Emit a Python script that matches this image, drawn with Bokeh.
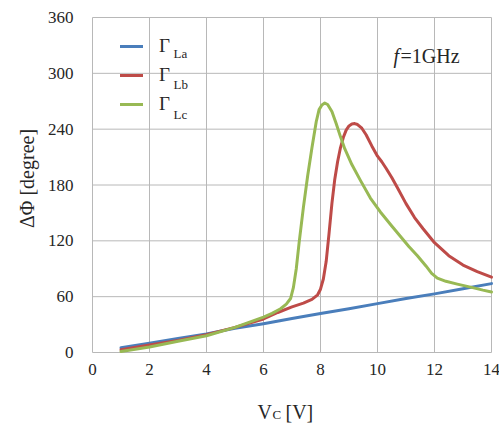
import math
from bokeh.plotting import figure
from bokeh.models import Range1d, Label, Legend, LegendItem
from bokeh.core.properties import value
from bokeh.embed import file_html
from bokeh.resources import INLINE

# ---- data ----
x_a = [1, 2, 3, 4, 5, 6, 7, 8, 9, 10, 11, 12, 13, 14]
y_a = [5, 10, 15, 20, 26, 31, 36.5, 42, 47, 52.5, 58, 63, 68.5, 74]

x_b = [1, 2, 3, 4, 5, 6, 6.5, 7, 7.4, 7.7, 7.9, 8.0, 8.1, 8.2, 8.3, 8.4, 8.5, 8.6, 8.7,
       8.8, 8.9, 9.0, 9.1, 9.2, 9.3, 9.45, 9.6, 9.8, 10.0, 10.15, 10.3, 10.5, 10.7, 11.0,
       11.3, 11.6, 12.0, 12.5, 13.0, 13.5, 14.0]
y_b = [3, 8, 13, 19, 27, 36, 43, 49, 53, 57, 62, 68, 79, 98, 128, 160, 186, 205, 220,
       231, 239, 243.5, 245.5, 246, 245, 241, 234, 222, 211, 205, 198, 188, 177, 160,
       145, 133, 118, 104, 94, 87, 81]

x_c = [1, 2, 3, 4, 5, 6, 6.3, 6.6, 6.8, 6.95, 7.05, 7.15, 7.25, 7.4, 7.55, 7.7, 7.85,
       7.95, 8.05, 8.15, 8.25, 8.4, 8.55, 8.7, 8.85, 9.1, 9.4, 9.75, 10.1, 10.5, 10.8,
       11.1, 11.4, 11.7, 11.9, 12.1, 12.4, 12.8, 13.3, 13.7, 14.0]
y_c = [1, 6, 12, 18, 27, 38, 42, 47, 52, 58, 70, 90, 118, 156, 190, 220, 248,
       261, 266, 268, 266.5, 259, 246, 232, 219, 202, 185, 166, 151, 136, 125,
       114, 104, 93, 85, 80, 76.5, 73.5, 70, 67, 65]

x_ticks = [0, 2, 4, 6, 8, 10, 12, 14]
y_ticks = [0, 60, 120, 180, 240, 300, 360]
x_tick_labels = [str(t) for t in x_ticks]
y_tick_labels = [str(t) for t in y_ticks]

# ---- layout (pixels) ----
W, H = 499, 423
FX0, FX1 = 92, 491      # plot box left / right
FY1, FY0 = 17, 352      # plot box top / bottom
SX = (FX1 - FX0) / (x_ticks[-1] - x_ticks[0])
SY = (FY0 - FY1) / (y_ticks[-1] - y_ticks[0])


def dx(px):
    return x_ticks[0] + (px - FX0) / SX


def dy(py):
    return y_ticks[0] + (FY0 - py) / SY


SERIF = "Liberation Serif"
TXT = "#262626"
GRID = "#b8b8b8"

p = figure(width=W, height=H, output_backend="svg", toolbar_location=None,
           x_axis_location=None, y_axis_location=None,
           x_range=Range1d(dx(0), dx(W)), y_range=Range1d(dy(H), dy(0)),
           min_border_left=0, min_border_right=0, min_border_top=0, min_border_bottom=0)
p.outline_line_color = None
p.grid.visible = False

# grid / plot box
p.segment(x0=x_ticks, y0=[y_ticks[0]] * len(x_ticks), x1=x_ticks, y1=[y_ticks[-1]] * len(x_ticks),
          line_color=GRID, line_width=1)
p.segment(x0=[x_ticks[0]] * len(y_ticks), y0=y_ticks, x1=[x_ticks[-1]] * len(y_ticks), y1=y_ticks,
          line_color=GRID, line_width=1)

# tick labels
p.text(x=x_ticks, y=[y_ticks[0]] * len(x_ticks), text=x_tick_labels, y_offset=11,
       text_align="center", text_baseline="top", text_font=value(SERIF),
       text_font_size="17px", text_color=TXT)
p.text(x=[x_ticks[0]] * len(y_ticks), y=y_ticks, text=y_tick_labels, x_offset=-19,
       text_align="right", text_baseline="middle", text_font=value(SERIF),
       text_font_size="17px", text_color=TXT)

# series
ra = p.line(x_a, y_a, line_color="#4a7ebb", line_width=3, line_join="round", line_cap="round")
rb = p.line(x_b, y_b, line_color="#be4b48", line_width=3, line_join="round", line_cap="round")
rc = p.line(x_c, y_c, line_color="#98b954", line_width=3, line_join="round", line_cap="round")

legend = Legend(items=[LegendItem(label="Γ", renderers=[ra]),
                       LegendItem(label="Γ", renderers=[rb]),
                       LegendItem(label="Γ", renderers=[rc])],
                location=(120, 308), padding=0, margin=0, spacing=7,
                glyph_width=23, glyph_height=22, label_height=22, label_standoff=16,
                border_line_color=None, background_fill_alpha=0,
                label_text_font=SERIF, label_text_font_size="19px", label_text_color=TXT)
p.add_layout(legend, "center")

for py, s in zip([53, 84, 114], ["La", "Lb", "Lc"]):
    p.add_layout(Label(x=dx(173), y=dy(py), text=s, text_font=SERIF, text_font_size="13px",
                       text_color=TXT, text_baseline="alphabetic"))

p.add_layout(Label(x=dx(393), y=dy(55), text="f", text_font=SERIF, text_font_style="italic",
                   text_font_size="20px", text_color=TXT, text_baseline="alphabetic"))
p.add_layout(Label(x=dx(400), y=dy(55), text="=1GHz", text_font=SERIF,
                   text_font_size="20px", text_color=TXT, text_baseline="alphabetic"))

# axis titles
p.add_layout(Label(x=dx(26), y=dy(178), text="ΔΦ [degree]", angle=math.pi / 2,
                   text_align="center", text_baseline="middle", text_font=SERIF,
                   text_font_size="20px", text_color=TXT))
p.add_layout(Label(x=dx(257), y=dy(411), text="V", text_font=SERIF, text_font_size="20px",
                   text_color=TXT, text_baseline="alphabetic"))
p.add_layout(Label(x=dx(272), y=dy(414), text="C", text_font=SERIF, text_font_size="13px",
                   text_color=TXT, text_baseline="alphabetic"))
p.add_layout(Label(x=dx(285), y=dy(411), text="[V]", text_font=SERIF, text_font_size="20px",
                   text_color=TXT, text_baseline="alphabetic"))

open("out.html", "w").write(file_html(p, INLINE))
